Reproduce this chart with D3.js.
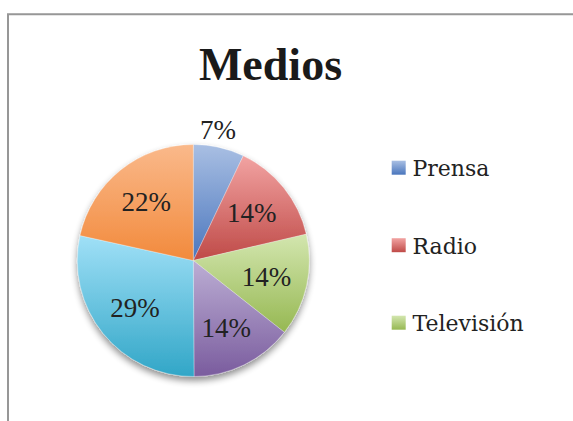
<!DOCTYPE html>
<html>
<head>
<meta charset="utf-8">
<script src="https://cdn.jsdelivr.net/npm/d3@7"></script>
<style>
  html, body { margin: 0; padding: 0; background: #fff; }
  svg { display: block; }
</style>
</head>
<body>
<svg id="chart" width="573" height="421"></svg>
<script>
// ---- data ----
const title = "Medios";
const categories = ["Prensa", "Radio", "Televisión", "Internet", "Cine", "Otros"];
const values = [7.1, 14.3, 14.3, 14.3, 28.6, 21.6];
const legendCategories = ["Prensa", "Radio", "Televisión"];
const lightColors = ["#a9bfe3", "#f2a3a2", "#d3e6af", "#bcaed4", "#a0e0f7", "#fab98b"];
const darkColors  = ["#4a76bd", "#bf4a47", "#96b852", "#7a5c9e", "#31a6c7", "#f28a3c"];

// ---- layout ----
const svg = d3.select("#chart");
const W = 573, H = 421;
const cx = 193.3, cy = 260.5, R = 116;

// frame
svg.append("path")
  .attr("d", `M8,${H + 5} L8,14.3 L${W + 5},14.3`)
  .attr("fill", "none")
  .attr("stroke", "#979797")
  .attr("stroke-width", 2);

// title
svg.append("text")
  .attr("x", 270.5).attr("y", 80)
  .attr("text-anchor", "middle")
  .attr("font-family", "'Liberation Serif', serif")
  .attr("font-weight", "bold")
  .attr("font-size", 46)
  .attr("fill", "#1a1a1a")
  .text(title);

const defs = svg.append("defs");
categories.forEach((c, i) => {
  const g = defs.append("linearGradient")
    .attr("id", "grad" + i)
    .attr("x1", 0).attr("y1", 0).attr("x2", 0).attr("y2", 1);
  g.append("stop").attr("offset", "0%").attr("stop-color", lightColors[i]);
  g.append("stop").attr("offset", "100%").attr("stop-color", darkColors[i]);
});
const shadow = defs.append("filter").attr("id", "shadow")
  .attr("x", "-20%").attr("y", "-20%").attr("width", "140%").attr("height", "140%");
shadow.append("feGaussianBlur").attr("in", "SourceAlpha").attr("stdDeviation", 3.5).attr("result", "b");
shadow.append("feOffset").attr("in", "b").attr("dx", 0).attr("dy", 4).attr("result", "o");
shadow.append("feComponentTransfer").attr("in", "o").attr("result", "o2")
  .append("feFuncA").attr("type", "linear").attr("slope", 0.45);
const m = shadow.append("feMerge");
m.append("feMergeNode").attr("in", "o2");
m.append("feMergeNode").attr("in", "SourceGraphic");

const pie = d3.pie().sort(null).value(d => d)(values);
const arc = d3.arc().innerRadius(0).outerRadius(R);
const total = d3.sum(values);

const g = svg.append("g").attr("transform", `translate(${cx},${cy})`);
const slices = g.append("g").attr("filter", "url(#shadow)");
slices.selectAll("path")
  .data(pie)
  .join("path")
  .attr("d", arc)
  .attr("fill", (d, i) => `url(#grad${i})`)
  .attr("stroke", "rgba(255,255,255,0.5)")
  .attr("stroke-width", 0.6);

const fmt = d => Math.round(d * 100) + "%";
g.selectAll("text.lbl")
  .data(pie)
  .join("text")
  .attr("class", "lbl")
  .attr("transform", d => {
    const a = (d.startAngle + d.endAngle) / 2;
    const frac = d.value / total;
    const r = frac < 0.1 ? R + 18 : 75;
    const x = Math.sin(a) * r + (frac < 0.1 ? -5 : 0);
    const y = -Math.cos(a) * r;
    return `translate(${x},${y})`;
  })
  .attr("text-anchor", "middle")
  .attr("dy", "0.33em")
  .attr("font-family", "'Liberation Serif', serif")
  .attr("font-size", 27)
  .attr("fill", "#222")
  .text(d => fmt(d.value / total));

// legend
const lg = svg.append("g");
const ly = d3.scalePoint().domain(legendCategories).range([176, 331]);
legendCategories.forEach((c, i) => {
  const y = ly(c);
  lg.append("rect")
    .attr("x", 391.7).attr("y", y - 15.3)
    .attr("width", 14).attr("height", 14)
    .attr("fill", `url(#grad${i})`);
  lg.append("text")
    .attr("x", 412.5).attr("y", y)
    .attr("font-family", "'DejaVu Serif', serif")
    .attr("font-size", 22)
    .attr("fill", "#222")
    .text(c);
});
</script>
</body>
</html>
